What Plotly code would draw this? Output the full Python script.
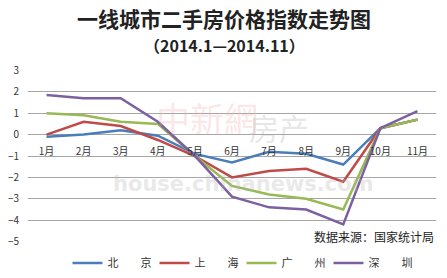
import plotly.graph_objects as go

months = ["1月", "2月", "3月", "4月", "5月", "6月", "7月", "8月", "9月", "10月", "11月"]
beijing = [-0.1, 0.0, 0.2, -0.05, -0.9, -1.3, -0.8, -0.9, -1.4, 0.3, 0.7]
shanghai = [0.0, 0.6, 0.4, -0.25, -1.0, -2.0, -1.7, -1.6, -2.2, 0.3, 0.7]
guangzhou = [1.0, 0.9, 0.6, 0.5, -1.0, -2.4, -2.8, -3.0, -3.5, 0.3, 0.7]
shenzhen = [1.85, 1.7, 1.7, 0.6, -1.0, -2.9, -3.4, -3.5, -4.2, 0.3, 1.1]
names = ["北　　京", "上　　海", "广　　州", "深　　圳"]
colors = ["#4A7EBB", "#BE4B48", "#98B954", "#7D60A0"]
yticks = [3, 2, 1, 0, -1, -2, -3, -4, -5]

W, H = 447, 278
L, R, T, B = 28, 11, 70, 36
plot_h = H - T - B
plot_w = W - L - R


def py(p):
    """pixel row -> paper fraction"""
    return (H - B - p) / plot_h


def px(p):
    """pixel column -> paper fraction"""
    return (p - L) / plot_w


fig = go.Figure()
for name, vals, c in zip(names, [beijing, shanghai, guangzhou, shenzhen], colors):
    fig.add_trace(go.Scatter(x=months, y=vals, mode="lines", name=name,
                             line=dict(color=c, width=2.5)))

cjk = "Noto Sans CJK SC"
fig.update_layout(
    width=W, height=H,
    margin=dict(l=L, r=R, t=T, b=B, autoexpand=False),
    paper_bgcolor="white", plot_bgcolor="white",
    showlegend=True,
    legend=dict(orientation="h", x=0.5 + 18 / W, xanchor="center", xref="container",
                y=(H - 263) / H, yanchor="middle", yref="container",
                font=dict(family=cjk, size=11, color="#333"),
                itemwidth=30, entrywidth=42, tracegroupgap=0),
    xaxis=dict(type="category", showgrid=False, zeroline=False, showline=False,
               ticks="", anchor="free", position=0.625, ticklabelstandoff=9,
               automargin=False,
               tickfont=dict(family=cjk, size=10, color="#333"),
               range=[-0.5, 10.5]),
    yaxis=dict(range=[-5.02, 3.02], tickvals=yticks, showgrid=True,
               gridcolor="#a6a6a6", gridwidth=1, zeroline=False, showline=False,
               ticks="", ticklabelstandoff=8, automargin=False,
               tickfont=dict(family=cjk, size=10, color="#333")),
    font=dict(family=cjk),
)

# watermarks (faint)
fig.add_annotation(text="中新網", xref="paper", yref="paper", x=px(155), y=py(92),
                   showarrow=False, borderpad=0,
                   font=dict(family=cjk, size=34, color="rgba(240,170,170,0.3)"))
fig.add_annotation(text="房产", xref="paper", yref="paper", x=px(310), y=py(104),
                   showarrow=False, borderpad=0,
                   font=dict(family=cjk, size=30, color="rgba(170,170,170,0.3)"))
fig.add_annotation(text="<b>house.chinanews.com</b>", xref="paper", yref="paper",
                   x=px(243), y=py(184), borderpad=0,
                   showarrow=False, font=dict(family="DejaVu Sans", size=21, color="rgba(180,180,180,0.3)"))

# titles
fig.add_annotation(text="<b>一线城市二手房价格指数走势图</b>", xref="paper", yref="paper",
                   x=px(224), y=py(18), yanchor="middle", showarrow=False,
                   font=dict(family=cjk, size=21, color="#222"))
fig.add_annotation(text="<b>（2014.1—2014.11）</b>", xref="paper", yref="paper",
                   x=px(224), y=py(45), yanchor="middle", showarrow=False,
                   font=dict(family=cjk, size=16, color="#222"))
# source
fig.add_annotation(text="数据来源：国家统计局", xref="paper", yref="paper", x=1.0, xanchor="right",
                   y=py(236), yanchor="middle", showarrow=False,
                   font=dict(family=cjk, size=12, color="#222"))

fig.write_html("out.html")
